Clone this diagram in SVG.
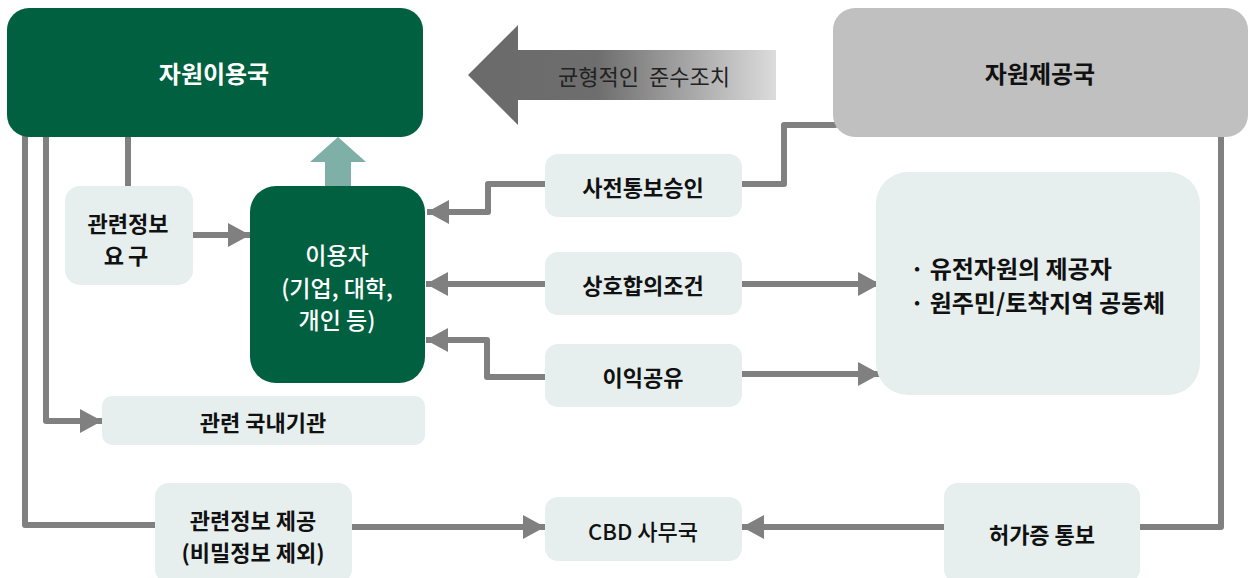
<svg xmlns="http://www.w3.org/2000/svg" width="1250" height="578" viewBox="0 0 1250 578">
<style>
.t{font-family:"Noto Sans CJK KR","Noto Sans",sans-serif;font-weight:bold;font-size:22px;fill:#111;text-anchor:middle;dominant-baseline:central}
.h{font-size:24px}
.w{fill:#fff}
.lt{fill:#e6efed}
.dg{fill:#006040}
.ln{fill:none;stroke:#808080;stroke-width:6;stroke-linejoin:round}
</style>
<defs>
<marker id="ah" viewBox="0 0 22 24" refX="22" refY="12" markerWidth="22" markerHeight="24" markerUnits="userSpaceOnUse" orient="auto">
<path d="M0,0 L22,12 L0,24 z" fill="#808080"/>
</marker>
<linearGradient id="bg" x1="468" y1="0" x2="776" y2="0" gradientUnits="userSpaceOnUse">
<stop offset="0" stop-color="#6a6a6a"/>
<stop offset="0.42" stop-color="#6e6e6e"/>
<stop offset="1" stop-color="#dcdcdc"/>
</linearGradient>
</defs>

<g id="connectors">
<path class="ln" stroke-linecap="round" d="M25,133 V525 H160"/>
<path class="ln" stroke-linecap="round" d="M46,137 V421 H102" marker-end="url(#ah)"/>
<path class="ln" stroke-linecap="round" d="M128,137 V186"/>
<path class="ln" d="M193,235 H250" marker-end="url(#ah)"/>
<path class="ln" stroke-linecap="round" d="M835,125 H784 V184 H740"/>
<path class="ln" d="M545,184 H488 V212 H427" marker-end="url(#ah)"/>
<path class="ln" d="M545,284 H426" marker-end="url(#ah)"/>
<path class="ln" d="M742,284 H880" marker-end="url(#ah)"/>
<path class="ln" d="M545,377 H487 V340 H426" marker-end="url(#ah)"/>
<path class="ln" d="M742,374 H880" marker-end="url(#ah)"/>
<path class="ln" stroke-linecap="round" d="M1221,135 V527 H1135"/>
<path class="ln" d="M352,527 H545" marker-end="url(#ah)"/>
<path class="ln" d="M944,527 H742" marker-end="url(#ah)"/>
<path d="M325,186 V162 H310 L338,137 L366,162 H351 V186 z" fill="#7fb0a8"/>
</g>

<g id="arrow-balance">
<path d="M468,75 L518,25 V50 H776 V100 H518 V125 z" fill="url(#bg)"/>
<text class="t" x="644" y="75" style="font-weight:normal;fill:#222;white-space:pre" xml:space="preserve">균형적인  준수조치</text>
</g>

<g id="user-country">
<rect class="dg" x="7" y="8" width="416" height="129" rx="22"/>
<text class="t h w" x="214" y="72">자원이용국</text>
</g>

<g id="provider-country">
<rect x="833" y="8" width="415" height="129" rx="22" fill="#c0c0c0"/>
<text class="t h" x="1040" y="72">자원제공국</text>
</g>

<g id="info-request">
<rect class="lt" x="65" y="186" width="128" height="99" rx="15"/>
<text class="t" x="128" y="222">관련정보</text>
<text class="t" x="128" y="254" letter-spacing="4">요구</text>
</g>

<g id="user">
<rect class="dg" x="250" y="186" width="175" height="197" rx="26"/>
<text class="t w" x="337" y="254" style="font-weight:500;font-size:23px">이용자</text>
<text class="t w" x="337" y="287" style="font-weight:500;font-size:23px">(기업, 대학,</text>
<text class="t w" x="337" y="319" style="font-weight:500;font-size:23px">개인 등)</text>
</g>

<g id="pic">
<rect class="lt" x="545" y="154" width="197" height="63" rx="13"/>
<text class="t" x="643" y="186">사전통보승인</text>
</g>

<g id="mat">
<rect class="lt" x="545" y="252" width="197" height="63" rx="13"/>
<text class="t" x="643" y="284">상호합의조건</text>
</g>

<g id="benefit">
<rect class="lt" x="545" y="344" width="197" height="63" rx="13"/>
<text class="t" x="643" y="376">이익공유</text>
</g>

<g id="providers">
<rect class="lt" x="876" y="172" width="324" height="223" rx="32"/>
<text class="t" x="910" y="267" style="text-anchor:start;font-size:24px">· 유전자원의 제공자</text>
<text class="t" x="910" y="301" style="text-anchor:start;font-size:24px">· 원주민/토착지역 공동체</text>
</g>

<g id="domestic">
<rect class="lt" x="102" y="396" width="323" height="49" rx="10"/>
<text class="t" x="263" y="421">관련 국내기관</text>
</g>

<g id="info-provide">
<rect class="lt" x="155" y="483" width="197" height="100" rx="14"/>
<text class="t" x="253" y="519">관련정보 제공</text>
<text class="t" x="253" y="551">(비밀정보 제외)</text>
</g>

<g id="cbd">
<rect class="lt" x="545" y="497" width="197" height="64" rx="13"/>
<text class="t" x="643" y="530" style="font-weight:500">CBD 사무국</text>
</g>

<g id="permit">
<rect class="lt" x="944" y="483" width="196" height="100" rx="14"/>
<text class="t" x="1042" y="533">허가증 통보</text>
</g>
</svg>
